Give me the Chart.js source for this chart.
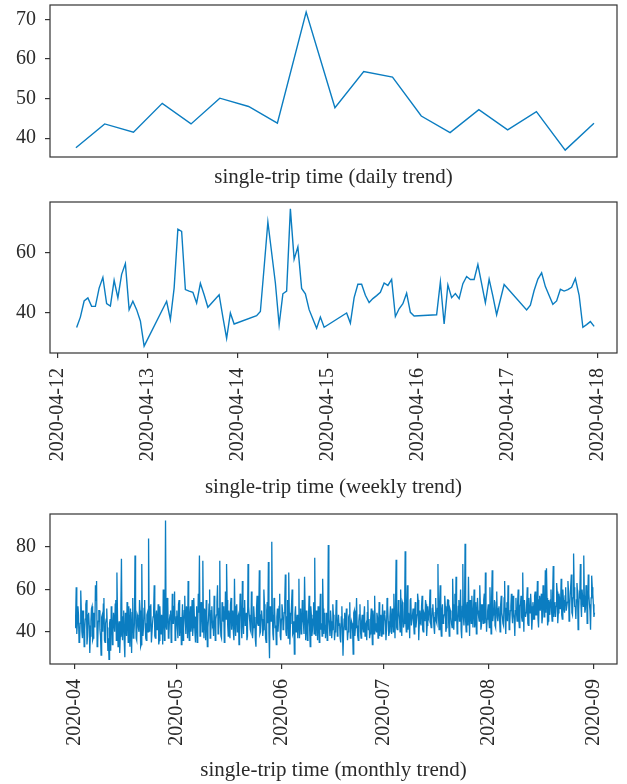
<!DOCTYPE html>
<html><head><meta charset="utf-8">
<script src="https://cdn.jsdelivr.net/npm/chart.js@4.4.1/dist/chart.umd.min.js"></script>
<style>
html,body{margin:0;padding:0;background:#fff;}
body{width:627px;height:784px;position:relative;overflow:hidden;}
canvas{position:absolute;left:0;}
</style></head><body>
<canvas id="c1" width="627" height="195" style="top:0"></canvas>
<canvas id="c2" width="627" height="310" style="top:195px"></canvas>
<canvas id="c3" width="627" height="279" style="top:505px"></canvas>
<script>
// ---------- DATA ----------
const dailyValues = [37.6, 43.6, 41.5, 48.8, 43.6, 50.1, 48.0, 43.8, 71.8, 47.7, 56.8, 55.4, 45.6, 41.4, 47.2, 42.1, 46.7, 37.0, 43.8];
const dailyTicks = [40, 50, 60, 70];

// weekly: hours since 2020-04-12 00:00
const weeklyHours = [5,6,7,8,9,10,11,12,13,14,15,16,17,18,19,20,21,22,23,
  29,30,31,32,33,34,35,36,37,38,39,40,43,44,45,46,47,53,54,55,56,58,59,60,61,62,63,64,65,66,67,68,69,70,71,
  77,78,79,80,81,82,83,84,85,86,87,88,89,90,91,92,93,94,95,
  101,102,103,104,105,106,107,108,109,110,111,112,113,114,115,116,117,119,
  125,126,127,128,129,130,131,132,133,134,135,136,137,138,139,140,141,142,143];
const weeklyValues = [34.9,38.4,43.8,44.8,42.0,42.0,48.1,51.7,42.9,42.1,50.7,44.8,52.7,56.3,40.9,43.7,40.9,37.1,28.7,
  43.7,37.6,48.1,67.8,67.1,47.6,47.1,46.7,43.1,49.7,45.9,41.7,45.9,38.4,31.3,39.8,36.1,38.9,40.3,55.1,70.2,49.8,35.8,46.2,47.1,74.6,57.8,61.9,48.0,46.2,40.9,37.8,34.7,38.4,35.0,
  39.8,36.4,44.9,49.4,49.4,45.7,43.3,44.6,45.6,46.7,49.8,49.0,51.0,38.6,41.2,42.9,46.4,40.0,38.8,
  39.2,50.2,36.1,49.2,44.9,46.3,44.6,49.6,52.0,51.0,51.0,56.0,49.6,43.2,51.1,45.4,39.2,49.3,
  40.8,42.4,47.3,51.1,53.2,48.6,45.6,42.7,43.8,47.7,47.1,47.6,48.4,51.3,45.7,35.0,35.9,36.9,35.3];
const weeklyTickHours = [0, 24, 48, 72, 96, 120, 144];
const weeklyTickLabels = ['2020-04-12','2020-04-13','2020-04-14','2020-04-15','2020-04-16','2020-04-17','2020-04-18'];
const weeklyYTicks = [40, 60];

// monthly: two readings per 8-hour slot starting 2020-04-01 (slot readings A, then B four hours later)
const monthlySlotsPerDay = 3;
const monthlyValuesA = [
 42,61,44,48,36,59.5,40,50,33,46,55,38,49,30,45,
 52,37,47,62,64,35,50,41,29,48,53,36,44,51,31,
 27,46,52,34,49,40,55,68,33,45,38,74.5,36,50,28,
 47,54,35,43,51,30,56,39,76,37,48,42,55,33,72,
 38,51,44,36,49,84,40,53,35,47,62,37,50,43,34,
 52,39,46,60,36,92.5,41,54,38,48,35,58,44,59,40,
 50,37,55,45,34,53,42,57,39,49,64,36,52,44,38,
 56,40,47,35,58,76,42,51,73.5,37,49,55,33,46,60,
 39,52,44,57,36,48,62,41,73.5,38,54,45,35,59,72,
 43,50,37,56,46,40,65,38,53,47,34,58,42,64,39,
 55,44,36,72,48,41,59,37,52,45,33,57,43,69,40,
 50,38,60,46,35,54,73,27.5,48,82.5,39,56,42,34,51,
 45,58,36,53,41,49,67,38,55,68,34,47,60,40,29.5,
 52,43,37,65,46,39,55,44,66,36,50,42,57,33,48,
 41,54,75,38,47,52,35,58,44,65,39,49,43,36,81,
 42,50,37,53,45,40,55,38,48,44,35,52,28.7,46,41,
 51,36,47,54,39,44,29.5,50,42,56,38,45,53,37,48,
 40,52,43,36,55,46,39,51,34,47,57,41,49,37,54,
 44,38,53,42,48,36,56,45,40,52,39,47,58,37,74,
 41,55,46,60,38,53,44,78,40,62,49,37,56,43,51,
 39,54,45,58,36,50,43,57,40,48,55,38,52,46,60,
 42,51,47,39,56,44,72,41,62,38,53,46,57,40,49,
 55,38,50,44,65,41,58,66,39,52,45,60,37,72,43,
 81.5,40,54,66,38,49,57,42,60,45,39,56,47,62,41,
 53,44,58,68,40,50,46,61,39,69,48,55,42,59,45,
 52,40,57,47,43,64,39,54,62,41,50,58,44,49,38,
 56,45,60,42,53,47,68,40,55,49,61,43,51,58,41,
 54,46,59,48,64,42,57,50,44,62,47,69,70,43,55,
 48,60,45,71,52,47,63,44,58,51,65,46,55,49,61,
 50,64,45,57,67,48,77,52,46,63,41,58,72,47,60,
 76,49,62,44,67,53,41,66.5,58,47];
const monthlyValuesB = [
 47,39,52,35,44,50,37,46,41,53,34,48,43,38,51,
 36,49,42,55,33,45,50,38,47,40,56,35,46,42,37,
 44,31,50,39,45,53,36,48,42,30,51,40,47,35,49,
 38,46,52,33,41,49,37,44,53,36,47,40,50,34,45,
 42,55,37,48,40,46,52,35,44,50,38,47,41,53,36,
 45,48,34,51,40,43,56,37,46,50,39,44,52,36,47,
 41,53,38,47,44,36,50,45,52,37,43,48,40,55,42,
 47,35,52,43,49,38,54,40,46,51,36,48,42,53,37,
 50,43,38,49,46,54,39,51,44,37,48,52,41,46,55,
 38,47,53,41,50,36,45,52,40,48,44,55,37,46,51,
 43,49,38,52,45,40,54,42,47,36,51,44,50,39,48,
 46,41,53,37,50,44,39,52,45,48,36,51,43,47,40,
 52,38,46,50,42,55,40,47,37,49,44,53,39,45,48,
 40,48,44,37,51,42,46,39,50,43,36,47,41,52,38,
 46,39,43,50,36,45,48,41,38,51,44,37,49,42,46,
 38,45,41,48,36,44,50,40,43,37,47,42,39,49,44,
 43,40,48,37,45,41,49,38,46,43,36,48,40,45,42,
 47,38,44,49,41,37,46,43,50,39,44,40,47,42,38,
 48,43,39,50,45,41,52,38,47,44,51,40,46,53,42,
 45,50,40,47,54,42,49,45,52,41,47,55,43,48,44,
 50,42,48,55,44,46,52,41,49,45,53,43,47,51,44,
 46,53,42,49,45,51,47,54,43,50,44,48,52,42,55,
 44,51,47,42,53,48,45,50,43,55,46,41,52,47,49,
 45,52,43,49,55,44,48,51,42,54,47,50,45,53,43,
 48,55,44,51,46,53,42,50,56,45,49,43,54,47,51,
 46,53,49,44,56,47,51,45,55,43,52,48,57,46,50,
 49,54,46,52,57,45,50,55,47,53,44,56,49,52,46,
 51,57,48,53,46,55,50,58,47,54,52,49,56,45,53,
 55,50,58,47,54,52,59,49,56,53,48,60,51,57,50,
 54,59,51,57,49,56,61,52,55,58,50,57,53,60,52,
 57,51,60,54,58,50,56,61,53,49];
const monthlyTickDays = [0, 30, 61, 91, 122, 153];
const monthlyTickLabels = ['2020-04','2020-05','2020-06','2020-07','2020-08','2020-09'];
const monthlyYTicks = [40, 60, 80];

// ---------- STYLE ----------
const LINE = '#0b7dc1';
const INK = '#2a2a2a';
const FRAME = '#333333';
const FONT = 'Liberation Serif';

const framePlugin = {
  id: 'frame',
  afterDraw(chart) {
    const {ctx, chartArea: a} = chart;
    ctx.save();
    ctx.strokeStyle = FRAME;
    ctx.lineWidth = 1.2;
    ctx.strokeRect(a.left, a.top, a.right - a.left, a.bottom - a.top);
    ctx.restore();
  }
};

function yAxis(min, max, ticks) {
  return {
    type: 'linear', min, max,
    afterBuildTicks(s) { s.ticks = ticks.map(v => ({value: v})); },
    afterFit(s) { s.width = 50; s.paddingTop = 0; s.paddingBottom = 0; },
    border: {display: false},
    grid: {drawOnChartArea: false, drawTicks: true, tickLength: 5, color: FRAME, lineWidth: 1.2},
    ticks: {font: {family: FONT, size: 20}, color: INK, padding: 9, callback: v => String(v)}
  };
}

function xAxis(min, max, height, title, titlePad, tickVals, tickLabels) {
  const ax = {
    type: 'linear', min, max,
    afterFit(s) { s.height = height; s.paddingLeft = 0; s.paddingRight = 0; },
    border: {display: false},
    title: {display: true, text: title, color: INK,
      font: {family: FONT, size: 21, lineHeight: 1.2}, padding: {top: 0, bottom: titlePad}}
  };
  if (tickVals) {
    ax.afterBuildTicks = s => { s.ticks = tickVals.map(v => ({value: v})); };
    ax.grid = {drawOnChartArea: false, drawTicks: true, tickLength: 5, color: FRAME, lineWidth: 1.2};
    ax.ticks = {font: {family: FONT, size: 20}, color: INK, padding: 10,
      minRotation: 90, maxRotation: 90, autoSkip: false,
      callback: (v, i) => tickLabels[i]};
  } else {
    ax.grid = {display: false};
    ax.ticks = {display: false};
  }
  return ax;
}

function makeChart(id, points, xCfg, yCfg, padTop, width) {
  return new Chart(document.getElementById(id), {
    type: 'line',
    data: {datasets: [{data: points, borderColor: LINE, borderWidth: width, pointRadius: 0, tension: 0, fill: false}]},
    options: {
      responsive: false, animation: false, parsing: true,
      layout: {padding: {top: padTop, right: 10, left: 0, bottom: 0}},
      plugins: {legend: {display: false}, tooltip: {enabled: false}},
      scales: {x: xCfg, y: yCfg}
    },
    plugins: [framePlugin]
  });
}

makeChart('c1', dailyValues.map((v, i) => ({x: i, y: v})),
  xAxis(-0.9, 18.8, 38, 'single-trip time (daily trend)', 5.4),
  yAxis(35.26, 73.6, dailyTicks), 5, 1.4);

makeChart('c2', weeklyHours.map((h, i) => ({x: h, y: weeklyValues[i]})),
  xAxis(-2.1, 149.1, 152, 'single-trip time (weekly trend)', 5.4, weeklyTickHours, weeklyTickLabels),
  yAxis(26.4, 76.9, weeklyYTicks), 7, 1.4);

const monthlyPoints = [];
monthlyValuesA.forEach((v, i) => {
  monthlyPoints.push({x: i / monthlySlotsPerDay, y: v});
  if (i < monthlyValuesB.length) monthlyPoints.push({x: (i + 0.5) / monthlySlotsPerDay, y: monthlyValuesB[i]});
});
makeChart('c3', monthlyPoints,
  xAxis(-7.4, 159.8, 120, 'single-trip time (monthly trend)', 1.4, monthlyTickDays, monthlyTickLabels),
  yAxis(24.8, 95.6, monthlyYTicks), 9, 1.3);
</script>
</body></html>
